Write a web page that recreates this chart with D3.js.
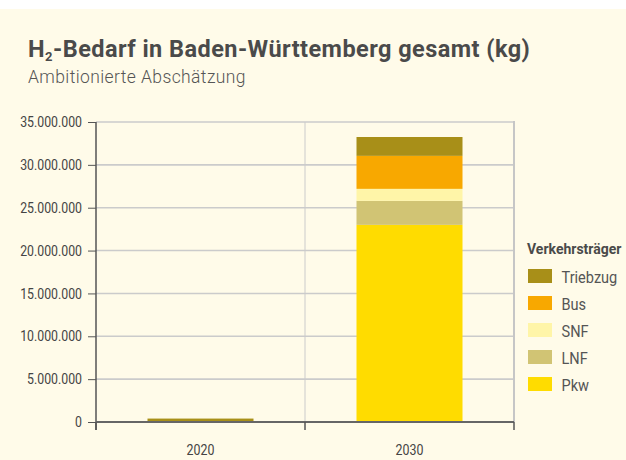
<!DOCTYPE html>
<html><head><meta charset="utf-8">
<script src="https://cdn.jsdelivr.net/npm/d3@7"></script>
<style>
html,body{margin:0;padding:0;background:#fff;}
svg{display:block;}
text{font-family:"Roboto","Liberation Sans",sans-serif;}
</style></head>
<body>
<svg id="chart" width="626" height="460"></svg>
<script>
const categories = ["2020", "2030"];
const seriesNames = ["Pkw", "LNF", "SNF", "Bus", "Triebzug"];
const pkw      = [0, 23000000];
const lnf      = [0, 2800000];
const snf      = [0, 1400000];
const bus      = [0, 3850000];
const triebzug = [400000, 2200000];
const colors = ["#ffdc00", "#d1c474", "#fff5a8", "#f8a800", "#a88f18"];
const yTicks = [0, 5000000, 10000000, 15000000, 20000000, 25000000, 30000000, 35000000];
const title = "Bedarf in Baden-Württemberg gesamt (kg)";
const subtitle = "Ambitionierte Abschätzung";
const legendTitle = "Verkehrsträger";

const seriesValues = [pkw, lnf, snf, bus, triebzug];
const rows = categories.map((c, i) => {
  const r = {cat: c};
  seriesNames.forEach((s, j) => r[s] = seriesValues[j][i]);
  return r;
});
const stacked = d3.stack().keys(seriesNames)(rows);

const svg = d3.select("#chart");
svg.append("rect").attr("x", 0).attr("y", 9).attr("width", 626).attr("height", 451).attr("fill", "#fffbe9");

const m = {left: 96, right: 514, top: 122, bottom: 422};
const x = d3.scaleBand().domain(categories).range([m.left, m.right]).paddingInner(0).paddingOuter(0);
const y = d3.scaleLinear().domain([0, 35000000]).range([m.bottom, m.top]);
const fmt = v => d3.format(",")(v).replace(/,/g, ".");

// gridlines
svg.append("g").selectAll("line").data(yTicks.slice(1)).join("line")
  .attr("x1", m.left).attr("x2", m.right)
  .attr("y1", d => y(d)).attr("y2", d => y(d))
  .attr("stroke", "#cbcbcb").attr("stroke-width", 1.6);
svg.append("g").selectAll("line").data(categories.slice(1)).join("line")
  .attr("x1", d => x(d)).attr("x2", d => x(d))
  .attr("y1", m.top).attr("y2", m.bottom)
  .attr("stroke", "#cbcbcb").attr("stroke-width", 1);
svg.append("line").attr("x1", m.right).attr("x2", m.right).attr("y1", m.top - 1).attr("y2", m.bottom)
  .attr("stroke", "#c6c6c6").attr("stroke-width", 2);

// bars
const barW = 106;
svg.append("g").selectAll("g").data(stacked).join("g")
  .attr("fill", (d, i) => colors[i])
  .selectAll("rect").data(d => d).join("rect")
  .attr("x", d => x(d.data.cat) + (x.bandwidth() - barW) / 2)
  .attr("width", barW)
  .attr("y", d => y(d[1]))
  .attr("height", d => Math.max(0, y(d[0]) - y(d[1])));

// y axis
const YSQ = 0.85;
const yAxis = d3.axisLeft(y).tickValues(yTicks).tickFormat(fmt).tickSize(8).tickPadding(6);
const ya = svg.append("g").attr("transform", `translate(${m.left},0)`).call(yAxis);
ya.select(".domain").attr("stroke", "#555").attr("stroke-width", 1.5).attr("d", `M0,${m.top}V${m.bottom + 8}`);
ya.selectAll(".tick line").attr("stroke", "#555");
ya.selectAll(".tick text").attr("fill", "#444").style("font-size", "14.5px")
  .attr("x", -14 / YSQ).attr("transform", `scale(${YSQ},1)`);

// x axis
const xAxis = d3.axisBottom(x).tickSize(0).tickPadding(22);
const xa = svg.append("g").attr("transform", `translate(0,${m.bottom})`).call(xAxis);
xa.select(".domain").attr("stroke", "#666").attr("stroke-width", 2).attr("d", `M${m.left},0H${m.right}`);
xa.selectAll(".tick text").attr("fill", "#444").style("font-size", "15.5px")
  .attr("transform", "scale(0.8,1)");
svg.append("g").selectAll("line").data([m.left, x(categories[1]), m.right]).join("line")
  .attr("x1", d => d).attr("x2", d => d).attr("y1", m.bottom).attr("y2", m.bottom + 8)
  .attr("stroke", "#555").attr("stroke-width", 1.5);

// title
const t = svg.append("text").attr("x", 28).attr("y", 57).attr("fill", "#4a4a4a")
  .style("font-size", "23.5px").style("font-weight", "bold").style("letter-spacing", "0.45px");
t.append("tspan").text("H");
t.append("tspan").text("2").style("font-size", "13px").attr("dy", 4);
t.append("tspan").text("-" + title).attr("dy", -4);
svg.append("text").attr("x", 28).attr("y", 83).attr("fill", "#555")
  .style("font-size", "17.5px").style("font-weight", 300).style("letter-spacing", "0.4px").text(subtitle);

// legend
const lg = svg.append("g");
lg.append("text").attr("x", 527).attr("y", 253.5).attr("fill", "#4a4a4a")
  .style("font-size", "14px").style("font-weight", "bold").text(legendTitle);
const legendItems = seriesNames.map((s, i) => ({name: s, color: colors[i]})).reverse();
const li = lg.selectAll("g.item").data(legendItems).join("g").attr("class", "item")
  .attr("transform", (d, i) => `translate(528,${269 + i * 27})`);
li.append("rect").attr("width", 24).attr("height", 14).attr("fill", d => d.color);
li.append("text").attr("transform", "translate(33.5,13.5) scale(0.91,1)").attr("fill", "#555")
  .style("font-size", "16px").text(d => d.name);
</script>
</body></html>
